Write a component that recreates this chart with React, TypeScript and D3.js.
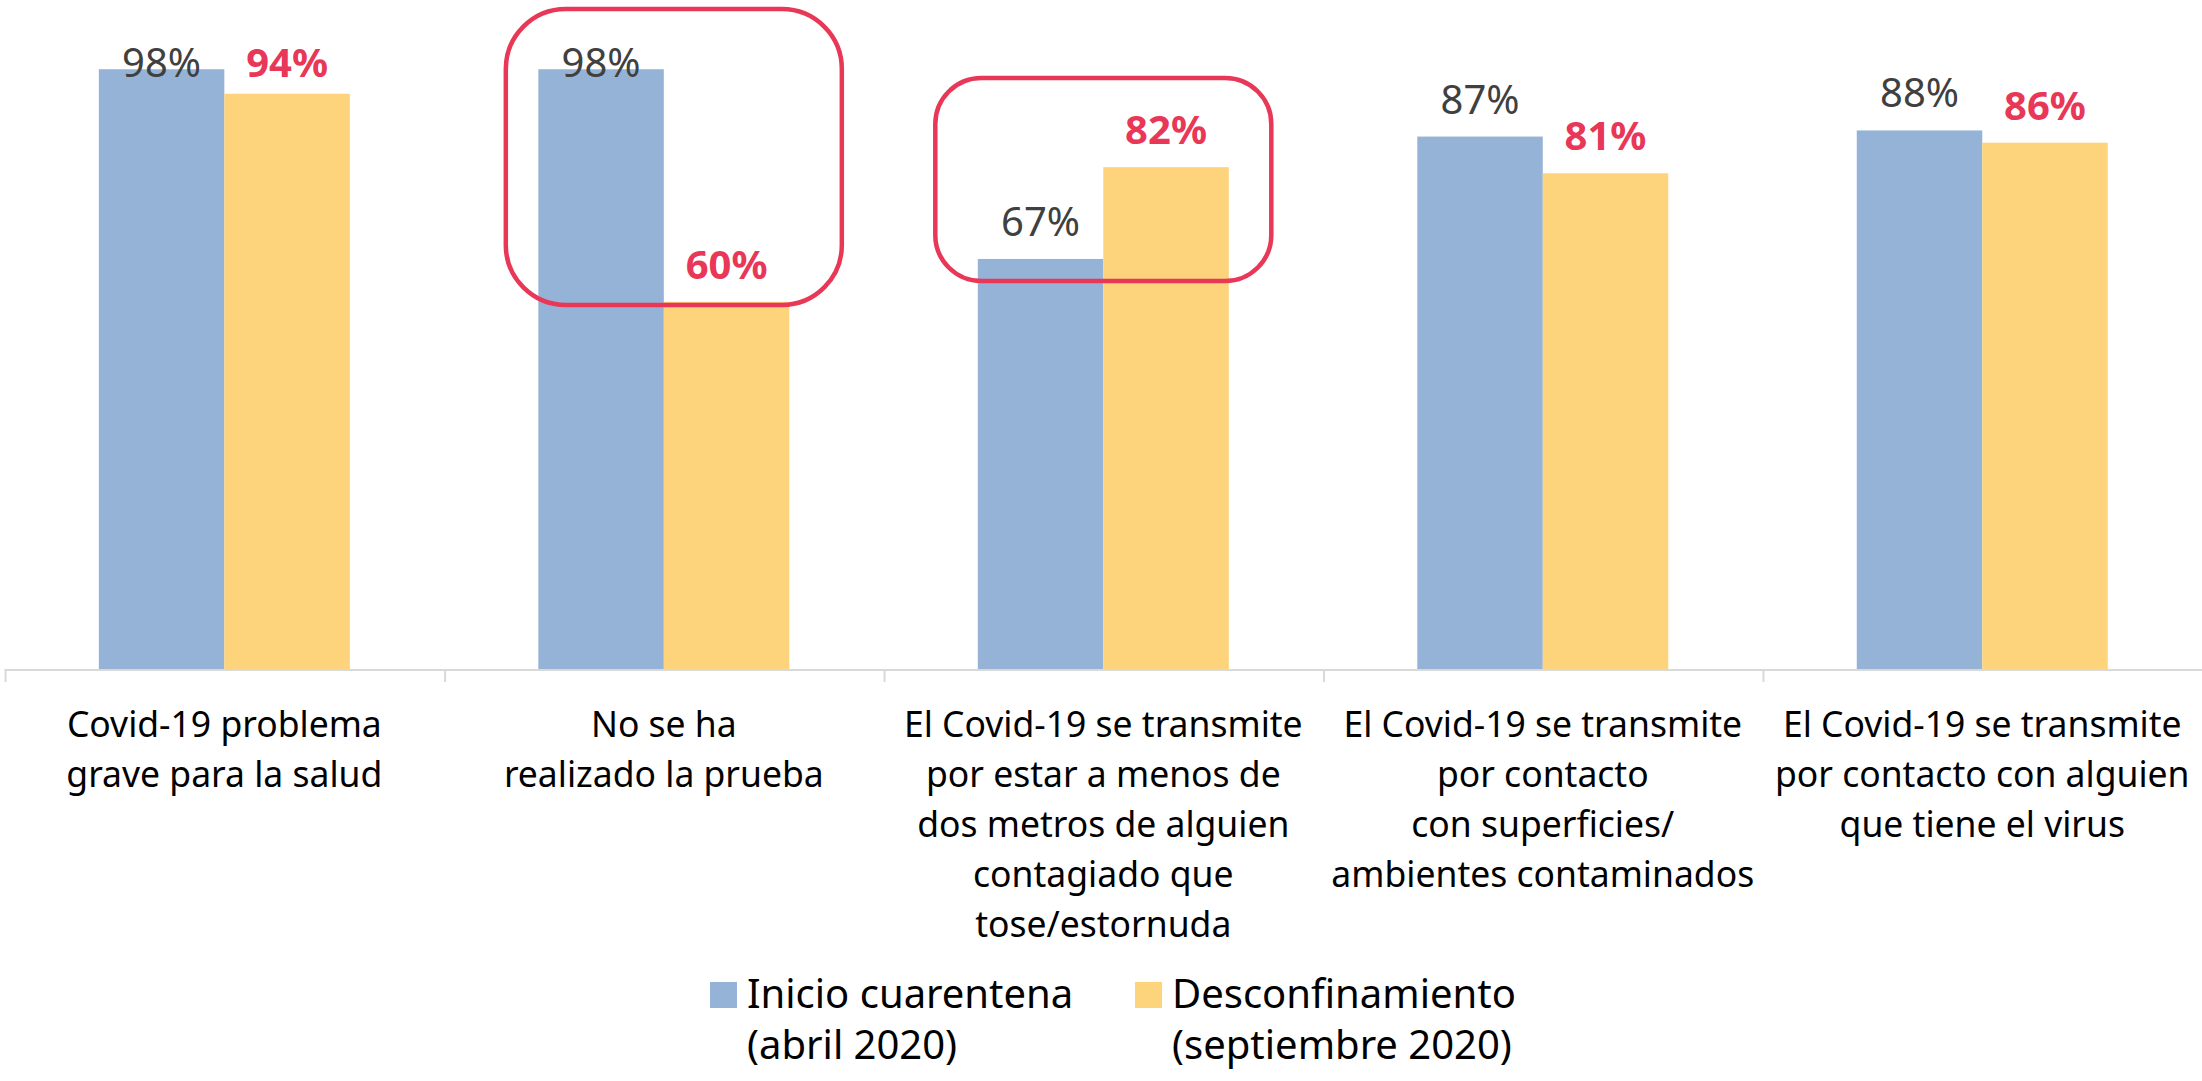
import React from 'react';
import * as d3 from 'd3';

// tamaño del lienzo
const width = 2202;
const height = 1081;

const categories = [
  'Covid-19 problema grave para la salud',
  'No se ha realizado la prueba',
  'El Covid-19 se transmite por estar a menos de dos metros de alguien contagiado que tose/estornuda',
  'El Covid-19 se transmite por contacto con superficies/ ambientes contaminados',
  'El Covid-19 se transmite por contacto con alguien que tiene el virus',
];
const categoryLines = [
  ['Covid-19 problema', 'grave para la salud'],
  ['No se ha', 'realizado la prueba'],
  ['El Covid-19 se transmite', 'por estar a menos de', 'dos metros de alguien', 'contagiado que', 'tose/estornuda'],
  ['El Covid-19 se transmite', 'por contacto', 'con superficies/', 'ambientes contaminados'],
  ['El Covid-19 se transmite', 'por contacto con alguien', 'que tiene el virus'],
];
const series = ['Inicio cuarentena', 'Desconfinamiento'];
const seriesLegend = [
  ['Inicio cuarentena', '(abril 2020)'],
  ['Desconfinamiento', '(septiembre 2020)'],
];
const inicio = [98, 98, 67, 87, 88];
const desconf = [94, 60, 82, 81, 86];

// categorías resaltadas con recuadro rojo
const highlighted = [1, 2];

const colors = ['#95B3D7', '#FDD47C'];
const red = '#E83757';
const font = "'Segoe UI', 'Noto Sans', sans-serif";

export default function App() {
  const x = d3.scaleBand<string>().domain(categories).range([4.6, width]);
  const xs = d3.scaleBand<string>().domain(series).range([0, x.bandwidth()]).paddingInner(0).paddingOuter(0.751);
  const y = d3.scaleLinear().domain([0, 100]).range([669, 57]);
  const values = [inicio, desconf];

  const labelY = (v: number) => Math.max(y(v) - 23, 77);

  return (
    <div>
      <style>{'body{margin:0}'}</style>
      <svg width={width} height={height} style={{ display: 'block', fontFamily: font }}>
        <rect width={width} height={height} fill="#fff" />

        {/* barras */}
        {categories.map((c, i) =>
          series.map((s, j) => (
            <rect
              key={c + s}
              x={(x(c) ?? 0) + (xs(s) ?? 0)}
              y={y(values[j][i])}
              width={xs.bandwidth()}
              height={y(0) - y(values[j][i])}
              fill={colors[j]}
            />
          ))
        )}

        {/* eje x */}
        <line x1={4.6} x2={width} y1={y(0) + 1} y2={y(0) + 1} stroke="#D9D9D9" strokeWidth={2} />
        {categories.map((c) => (
          <line key={c} x1={(x(c) ?? 0) + 1} x2={(x(c) ?? 0) + 1} y1={y(0)} y2={y(0) + 13} stroke="#D9D9D9" strokeWidth={2} />
        ))}

        {/* etiquetas de categoría */}
        {categories.map((c, i) => (
          <text key={c} x={(x(c) ?? 0) + x.bandwidth() / 2} y={737} textAnchor="middle" fontSize={35.5} fill="#000">
            {categoryLines[i].map((l, k) => (
              <tspan key={k} x={(x(c) ?? 0) + x.bandwidth() / 2} y={737 + k * 50}>{l}</tspan>
            ))}
          </text>
        ))}

        {/* etiquetas de valores */}
        {categories.map((c, i) =>
          series.map((s, j) => (
            <text
              key={c + s}
              x={(x(c) ?? 0) + (xs(s) ?? 0) + xs.bandwidth() / 2}
              y={labelY(values[j][i])}
              textAnchor="middle"
              fontSize={40}
              fontWeight={j === 1 ? 'bold' : 'normal'}
              fill={j === 1 ? red : '#404040'}
            >
              {values[j][i]}%
            </text>
          ))
        )}

        {/* recuadros */}
        {highlighted.map((i) => {
          const c = categories[i];
          const cx = (x(c) ?? 0) + x.bandwidth() / 2;
          const top = i === 1 ? 9 : 78;
          const bottom = i === 1 ? 305 : 281;
          const shift = i === 1 ? 10 : 0;
          return (
            <rect
              key={c}
              x={cx - 168 + shift}
              y={top}
              width={336}
              height={bottom - top}
              rx={i === 1 ? 60 : 46}
              fill="none"
              stroke={red}
              strokeWidth={4.5}
            />
          );
        })}

        {/* leyenda */}
        {seriesLegend.map((lines, j) => {
          const lx = j === 0 ? 710 : 1135;
          return (
            <g key={j}>
              <rect x={lx} y={982} width={27} height={26} fill={colors[j]} />
              <text x={lx + 37} y={1008} fontSize={40} fill="#000">
                <tspan x={lx + 37} y={1008}>{lines[0]}</tspan>
                <tspan x={lx + 37} y={1059}>{lines[1]}</tspan>
              </text>
            </g>
          );
        })}
      </svg>
    </div>
  );
}
